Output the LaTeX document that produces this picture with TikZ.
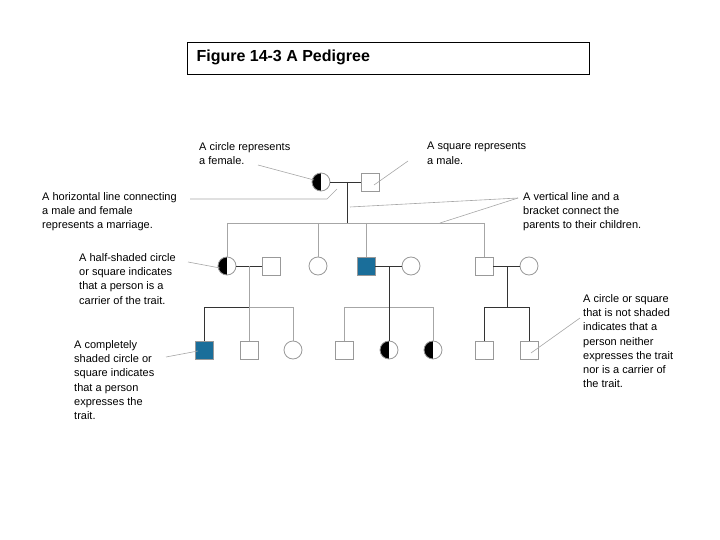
\documentclass[tikz,border=0pt]{standalone}
\usepackage{fontspec}
\setmainfont{Liberation Sans}
\definecolor{fill}{HTML}{1A6E9A}
\begin{document}
\begin{tikzpicture}[x=1pt,y=-1pt,
  lbl/.style={anchor=north west,align=left,inner sep=0pt,font=\fontsize{11}{14.3}\selectfont},
  ptr/.style={draw=gray!70,line width=0.6pt},
  con/.style={draw=black!80,line width=0.9pt},
  con2/.style={draw=gray!70,line width=0.9pt},
  fem/.style={circle,draw=gray!80,line width=0.8pt,minimum size=18pt,inner sep=0pt},
  mal/.style={rectangle,draw=gray!80,line width=0.8pt,minimum size=18pt,inner sep=0pt},
  aff/.style={mal,fill=fill},
  half/.style={fem,path picture={\fill[fill] (path picture bounding box.north west) rectangle (path picture bounding box.south);}}]
\useasboundingbox (0,0) rectangle (720,540);
\node[draw,line width=0.8pt,minimum width=402pt,minimum height=32pt,anchor=north west,inner sep=0pt] (tb) at (187,42) {};
\node[anchor=west,font=\bfseries\fontsize{16}{18}\selectfont] (title) at (193,57) {Figure 14-3 A Pedigree};
% gen 1
\node[half] (g1f) at (321,182) {};
\node[mal] (g1m) at (370,182) {};
% gen 2
\node[half] (a) at (227,266) {};
\node[mal] (b) at (271,266) {};
\node[fem] (c) at (318,266) {};
\node[aff] (d) at (366,266) {};
\node[fem] (e) at (411,266) {};
\node[mal] (f) at (484,266) {};
\node[fem] (g) at (529,266) {};
% gen 3
\node[aff] (h) at (204,350) {};
\node[mal] (i) at (249,350) {};
\node[fem] (j) at (293,350) {};
\node[mal] (k) at (344,350) {};
\node[half] (l) at (389,350) {};
\node[half] (m) at (433,350) {};
\node[mal] (n) at (484,350) {};
\node[mal] (o) at (529,350) {};
% connectors
\coordinate (m1) at (347,182); \coordinate (s1) at (347,223);
\draw[con] (g1f) -- (g1m);
\draw[con] (m1) -- (s1);
\draw[con2] (227,223) -- (484,223);
\draw[con2] (227,223) -- (a.north);
\draw[con2] (318,223) -- (c.north);
\draw[con2] (366,223) -- (d.north);
\draw[con2] (484,223) -- (f.north);
\coordinate (m2) at (249,266); \coordinate (s2) at (249,307);
\draw[con] (a) -- (b);
\draw[con2] (m2) -- (s2);
\draw[con] (204,307) -- (h.north); \draw[con] (204,307) -- (249,307);
\draw[con2] (249,307) -- (293,307) -- (j.north);
\draw[con2] (s2) -- (i.north);
\coordinate (m3) at (389,266); \coordinate (s3) at (389,307);
\draw[con] (d) -- (e);
\draw[con] (m3) -- (s3);
\draw[con2] (k.north) -- (344,307) -- (433,307) -- (m.north);
\draw[con] (s3) -- (l.north);
\coordinate (m4) at (507,266); \coordinate (s4) at (507,307);
\draw[con] (f) -- (g);
\draw[con] (m4) -- (s4);
\draw[con] (n.north) -- (484,307) -- (529,307) -- (o.north);
% labels
\node[lbl] (t1) at (199,142) {A circle represents\\a female.};
\node[lbl] (t2) at (427,142) {A square represents\\a male.};
\node[lbl] (t3) at (42,192) {A horizontal line connecting\\a male and female\\represents a marriage.};
\node[lbl] (t4) at (523,192) {A vertical line and a\\bracket connect the\\parents to their children.};
\node[lbl] (t5) at (79,253) {A half-shaded circle\\or square indicates\\that a person is a\\carrier of the trait.};
\node[lbl] (t6) at (74,340) {A completely\\shaded circle or\\square indicates\\that a person\\expresses the\\trait.};
\node[lbl] (t7) at (583,294) {A circle or square\\that is not shaded\\indicates that a\\person neither\\expresses the trait\\nor is a carrier of\\the trait.};
% pointers
\draw[ptr] (258,165) -- (314,180);
\draw[ptr] (408,161) -- (374,185);
\draw[ptr] (190,199) -- (327,199) -- (337,189);
\draw[ptr] (518,198) -- (350,207);
\draw[ptr] (518,198) -- (440,223);
\draw[ptr] (188,262) -- (220,268);
\draw[ptr] (166,357) -- (198,351);
\draw[ptr] (580,318) -- (531,353);
\end{tikzpicture}
\end{document}
